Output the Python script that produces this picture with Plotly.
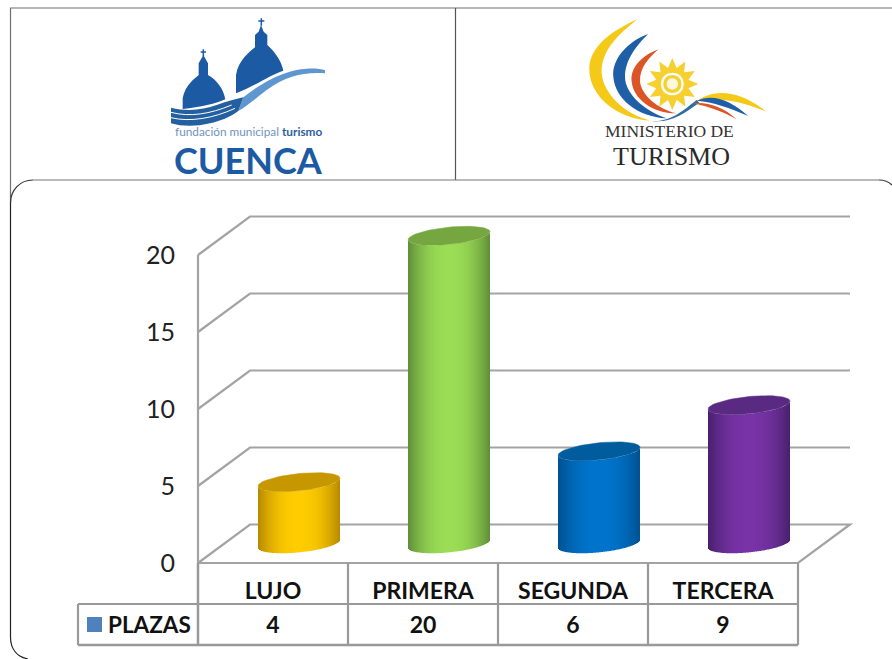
import math
import re
import plotly.graph_objects as go

categories = ['LUJO', 'PRIMERA', 'SEGUNDA', 'TERCERA']
plazas = [4, 20, 6, 9]
series_name = 'PLAZAS'
y_ticks = [0, 5, 10, 15, 20]

bright = ['#FFCC00', '#9BDD55', '#0074CC', '#7833A6']
dark = ['#B58800', '#5F8C38', '#00508F', '#47206B']
caps = ['#C79700', '#76A640', '#005C9C', '#5A2A82']

W, H = 892, 659
# pixel calibration of the front plane of the 3d box
X0_PX, CAT_PX = 198, 150
Y0_PX, UNIT_PX = 563, 15.4
DEPTH_X, DEPTH_Y = 52 / CAT_PX, 38.5 / UNIT_PX
GRID = '#A3A3A3'
TABLE = '#999999'
FONT = 'Lato'


def px_x(p):
    return (p - X0_PX) / CAT_PX - 0.5


def px_y(p):
    return (Y0_PX - p) / UNIT_PX


def hex_mix(a, b, t):
    ca = [int(a[i:i + 2], 16) for i in (1, 3, 5)]
    cb = [int(b[i:i + 2], 16) for i in (1, 3, 5)]
    return 'rgb(%d,%d,%d)' % tuple(round(p + (q - p) * t) for p, q in zip(ca, cb))


fig = go.Figure()
shapes = []


def line(xs, ys, color=GRID, width=2.2):
    path = 'M' + ' L'.join(f'{x},{y}' for x, y in zip(xs, ys))
    shapes.append(dict(type='path', path=path, xref='x', yref='y', layer='below',
                       line=dict(color=color, width=width)))


# walls and floor of the box
for v in y_ticks[1:]:
    line([-0.5, -0.5 + DEPTH_X, 3.5 + DEPTH_X], [v, v + DEPTH_Y, v + DEPTH_Y])
line([-0.5, -0.5], [0, y_ticks[-1]])
line([-0.5, -0.5 + DEPTH_X, 3.5 + DEPTH_X, 3.5, -0.5],
     [0, DEPTH_Y, DEPTH_Y, 0, 0])

# data table under the plot
row1, row2 = px_y(604), px_y(645)
line([-0.5, -0.5], [0, row2], TABLE, 2.5)
for i in range(1, 5):
    line([i - 0.5, i - 0.5], [0, row2], TABLE, 2.2)
line([px_x(78), 3.5], [row1, row1], TABLE, 2.2)
line([px_x(78), 3.5], [row2, row2], TABLE, 2.5)
line([px_x(78), px_x(78)], [row1, row2], TABLE, 2.2)
shapes.append(dict(type='rect', xref='x', yref='y', x0=px_x(87), x1=px_x(102),
                   y0=px_y(617), y1=px_y(632), fillcolor='#4F81BD', line_width=0))

# cylinders: one bar per pixel column so the shading can follow the curve
half_w = 41 / CAT_PX
shear = 4 / UNIT_PX
minor = 8.6 / UNIT_PX
n_strips = 82
bx, by, bbase, bcol = [], [], [], []
for i, v in enumerate(plazas):
    cx = i + DEPTH_X / 2
    for k in range(n_strips):
        u = -1 + (2 * k + 1) / n_strips
        edge = minor * math.sqrt(1 - u * u)
        bx.append(cx + half_w * u)
        bbase.append(DEPTH_Y / 2 + shear * u - edge)
        by.append(v)
        bcol.append(hex_mix(bright[i], dark[i], abs(u) ** 2.2))
fig.add_trace(go.Bar(x=bx, y=by, base=bbase, width=1 / CAT_PX,
                     marker=dict(color=bcol, line_width=0),
                     showlegend=False, hoverinfo='skip'))

for i, v in enumerate(plazas):
    cx = i + DEPTH_X / 2
    angles = [2 * math.pi * a / 72 for a in range(73)]
    fig.add_trace(go.Scatter(
        x=[cx + half_w * math.cos(a) for a in angles],
        y=[v + DEPTH_Y / 2 + shear * math.cos(a) + minor * math.sin(a) for a in angles],
        mode='lines', fill='toself', fillcolor=caps[i], line=dict(color=caps[i], width=0.5),
        showlegend=False, hoverinfo='skip'))

# values row
fig.add_trace(go.Scatter(x=list(range(4)), y=[px_y(627.5)] * 4, mode='text',
                         text=[str(v) for v in plazas],
                         textfont=dict(family=FONT, size=23, color='#111111', weight='bold'),
                         showlegend=False, hoverinfo='skip'))


# outer frame, in page pixels
def page_path(d, ox=0, oy=0, scale=1):
    def repl(m):
        x = (ox + float(m.group(1)) / scale) / W
        y = 1 - (oy + float(m.group(2)) / scale) / H
        return f'{x:.5f},{y:.5f}'
    return re.sub(r'(-?[\d.]+),(-?[\d.]+)', repl, d)


def page_shape(d, fill=None, color=None, width=0, ox=0, oy=0, scale=1):
    shapes.append(dict(type='path', path=page_path(d, ox, oy, scale), xref='paper', yref='paper',
                       fillcolor=fill, line=dict(color=color, width=width)))


page_shape('M10.5,203 L10.5,8 L892,8', color='#707070', width=1.2)
page_shape('M455.5,8 L455.5,180', color='#555555', width=1.2)
page_shape('M33,180 L879,180', color='#777777', width=1.2)
page_shape('M10.5,203 C10.5,190 20,180 33,180', color='#333333', width=1.2)
page_shape('M879,180 C884,180 889,182 892,185', color='#333333', width=1.2)
page_shape('M10.5,203 L10.5,637 C10.5,650 18,657 28,659', color='#222222', width=1.2)

A = dict(ox=160, oy=10, scale=3)
navy, mid = '#1D5AA4', '#5E96D0'
page_shape('M228,250 L228,195 C235,150 270,125 285,112 L285,75 L296,65 L303,45 L311,65 L322,75 '
           'L322,105 C345,125 365,155 370,182 C330,195 290,225 228,250 Z', fill=navy, **A)
page_shape('M68,297 L68,265 C75,225 105,205 116,195 L116,160 L130,135 L144,160 L144,195 '
           'C170,210 190,235 196,268 C170,280 120,292 68,297 Z', fill=navy, **A)
page_shape('M304,25 L304,47 M295,33 L313,33', color=navy, width=1.5, **A)
page_shape('M130,118 L130,138 M122,126 L138,126', color=navy, width=1.5, **A)
page_shape('M250,262 C320,205 390,178 440,176 C465,175 485,177 495,181 L495,190 '
           'C440,185 380,195 320,240 C290,263 265,285 235,303 Z', fill=mid, **A)
page_shape('M33,293 C80,305 130,300 170,285 C200,275 225,267 250,262 L235,303 '
           'C210,322 180,333 150,340 C110,350 65,350 33,340 Z', fill='#24609F', **A)
page_shape('M33,307 C90,322 150,312 215,285 M33,323 C90,337 160,325 225,295',
           color='#FFFFFF', width=1, **A)

# logo right
B = dict(ox=580, oy=10, scale=3)
page_shape('M172,28 C100,60 25,110 28,180 C30,260 110,325 210,332 C130,310 70,250 65,190 '
           'C62,120 120,70 172,28 Z', fill='#F5C918', **B)
page_shape('M205,72 C140,95 95,150 100,200 C105,265 170,320 260,325 C190,300 135,250 135,200 '
           'C135,150 170,105 205,72 Z', fill='#1F5FA8', **B)
page_shape('M235,118 C190,135 150,170 155,215 C160,265 215,310 290,310 C230,295 185,255 180,215 '
           'C178,175 205,145 235,118 Z', fill='#DB5527', **B)
page_shape('M210,332 C270,340 310,300 350,270 L358,278 C310,312 270,342 210,332 Z', fill='#2F6E9E', **B)
page_shape('M355,270 C400,240 470,235 560,305 C500,280 430,260 355,270 Z', fill='#F5C918', **B)
page_shape('M350,272 C400,250 450,270 505,318 C450,295 400,275 350,272 Z', fill='#1F5FA8', **B)
page_shape('M340,280 C380,275 430,290 470,328 C420,300 380,290 340,280 Z', fill='#DB5527', **B)
star = []
for k in range(24):
    r = 78 if k % 2 == 0 else 50
    a = math.pi * k / 12 - math.pi / 2
    star.append(f'{277 + r * math.cos(a):.1f},{222 + r * math.sin(a):.1f}')
page_shape('M' + ' L'.join(star) + ' Z', fill='#F7CF2F', **B)
for r, c in ((34, '#FFFFFF'), (27, '#F7CF2F'), (17, '#FFF8DC')):
    page_shape(f'M{277 - r},222 C{277 - r},{222 - r * 1.33} {277 + r},{222 - r * 1.33} {277 + r},222 '
               f'C{277 + r},{222 + r * 1.33} {277 - r},{222 + r * 1.33} {277 - r},222 Z', fill=c, **B)


def page_text(x, y, text, family, size, color):
    fig.add_annotation(x=x / W, y=1 - y / H, xref='paper', yref='paper', text=text, showarrow=False,
                       xanchor='center', yanchor='middle', borderpad=0,
                       font=dict(family=family, size=size, color=color))


page_text(248.5, 131, '<span style="color:#7193BE">fundación municipal</span> '
          '<b style="color:#2F5E9E">turismo</b>', 'Lato', 11.8, '#7193BE')
page_text(248, 160, '<b>CUENCA</b>', 'Lato', 36, '#1D5AA4')
page_text(669, 131, 'MINISTERIO DE', 'Liberation Serif', 17.5, '#333333')
page_text(671, 157, 'TURISMO', 'Liberation Serif', 26, '#2A2A2A')
page_text(149.5, 624.5, f'<b>{series_name}</b>', FONT, 22.5, '#111111')

fig.update_layout(
    width=W, height=H, autosize=False, margin=dict(l=0, r=0, t=0, b=0),
    paper_bgcolor='white', plot_bgcolor='white', barmode='overlay', showlegend=False,
    shapes=shapes,
    xaxis=dict(range=[px_x(0), px_x(W)], anchor='free', position=(H - Y0_PX) / H,
               tickmode='array', tickvals=list(range(4)), ticktext=[f'<b>{c}</b>' for c in categories],
               tickfont=dict(family=FONT, size=23, color='#111111'), ticks='', ticklabelstandoff=12,
               showgrid=False, zeroline=False, showline=False),
    yaxis=dict(range=[px_y(H), px_y(0)], anchor='free', position=X0_PX / W,
               tickmode='array', tickvals=y_ticks,
               tickfont=dict(family=FONT, size=25, color='#222222'), ticks='', ticklabelstandoff=23,
               showgrid=False, zeroline=False, showline=False),
)

# the page's default body margin would push the figure off by 8px
fig.write_html('out.html', config={'displayModeBar': False},
               post_script="document.body.style.margin='0';")
